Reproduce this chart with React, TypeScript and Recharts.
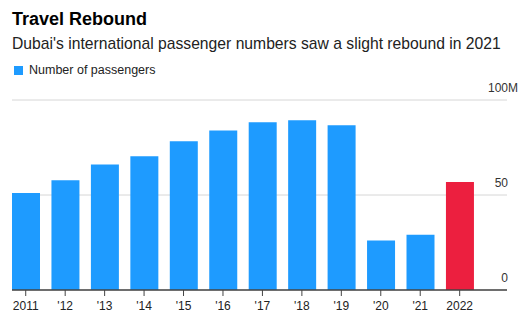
import { Bar, BarChart, CartesianGrid, Cell, XAxis, YAxis } from "recharts";

const years = ["2011", "'12", "'13", "'14", "'15", "'16", "'17", "'18", "'19", "'20", "'21", "2022"];
const passengers = [51, 57.7, 66.1, 70.4, 78.3, 84, 88.3, 89.3, 86.7, 26, 29.1, 56.8];
const yTicks = [0, 50, 100];
const highlightYear = "2022";

const chartData = years.map((year, i) => ({ year, passengers: passengers[i] }));

const FONT = '"Liberation Sans", Arial, Helvetica, sans-serif';

// right-aligned numbers sitting above their gridline, with "M" hanging past the edge
function YTick(props: any) {
  const { x, y, payload } = props;
  const by = y - 8.5;
  const ax = x + 1;
  if (payload.value === 100) {
    return (
      <g>
        <text x={ax} y={by} textAnchor="end" fontSize={12} fill="#333" fontFamily={FONT}>
          100
        </text>
        <text x={ax} y={by} textAnchor="start" fontSize={12} fill="#333" fontFamily={FONT}>
          M
        </text>
      </g>
    );
  }
  return (
    <text x={ax} y={by} textAnchor="end" fontSize={12} fill="#333" fontFamily={FONT}>
      {payload.value}
    </text>
  );
}

export default function App() {
  return (
    <div style={{ position: "absolute", left: 0, top: 0, width: 529, height: 324, fontFamily: FONT }}>
      <div style={{ position: "absolute", left: 12, top: 8, fontSize: 18, fontWeight: 700, color: "#000", lineHeight: "22px" }}>
        Travel Rebound
      </div>
      <div style={{ position: "absolute", left: 12, top: 35, fontSize: 15.7, color: "#222", lineHeight: "18px" }}>
        Dubai's international passenger numbers saw a slight rebound in 2021
      </div>
      <div style={{ position: "absolute", left: 14, top: 63, fontSize: 12.5, color: "#222", lineHeight: "15px", display: "flex", alignItems: "center" }}>
        <span style={{ display: "inline-block", width: 9, height: 9, background: "#1E9BFF", marginRight: 6 }} />
        Number of passengers
      </div>
      <BarChart
        width={529}
        height={324}
        data={chartData}
        margin={{ top: 100, right: 0, left: 12, bottom: 0 }}
        style={{ position: "absolute", left: 0, top: 0 }}
      >
        <CartesianGrid vertical={false} stroke="#d6d6d6" />
        <XAxis
          dataKey="year"
          height={34}
          padding={{ left: -6, right: 27.6 }}
          axisLine={{ stroke: "#444", strokeWidth: 1.5 }}
          tickLine={{ stroke: "#444" }}
          tickSize={6}
          tickMargin={5}
          interval={0}
          tick={{ fontSize: 12, fill: "#222", fontFamily: FONT }}
        />
        <YAxis
          orientation="right"
          domain={[0, 100]}
          ticks={yTicks}
          width={22}
          axisLine={false}
          tickLine={false}
          tickSize={0}
          tickMargin={0}
          tick={<YTick />}
        />
        <Bar dataKey="passengers" barSize={28} isAnimationActive={false}>
          {chartData.map((d) => (
            <Cell key={d.year} fill={d.year === highlightYear ? "#EC1F3F" : "#1E9BFF"} />
          ))}
        </Bar>
      </BarChart>
    </div>
  );
}
